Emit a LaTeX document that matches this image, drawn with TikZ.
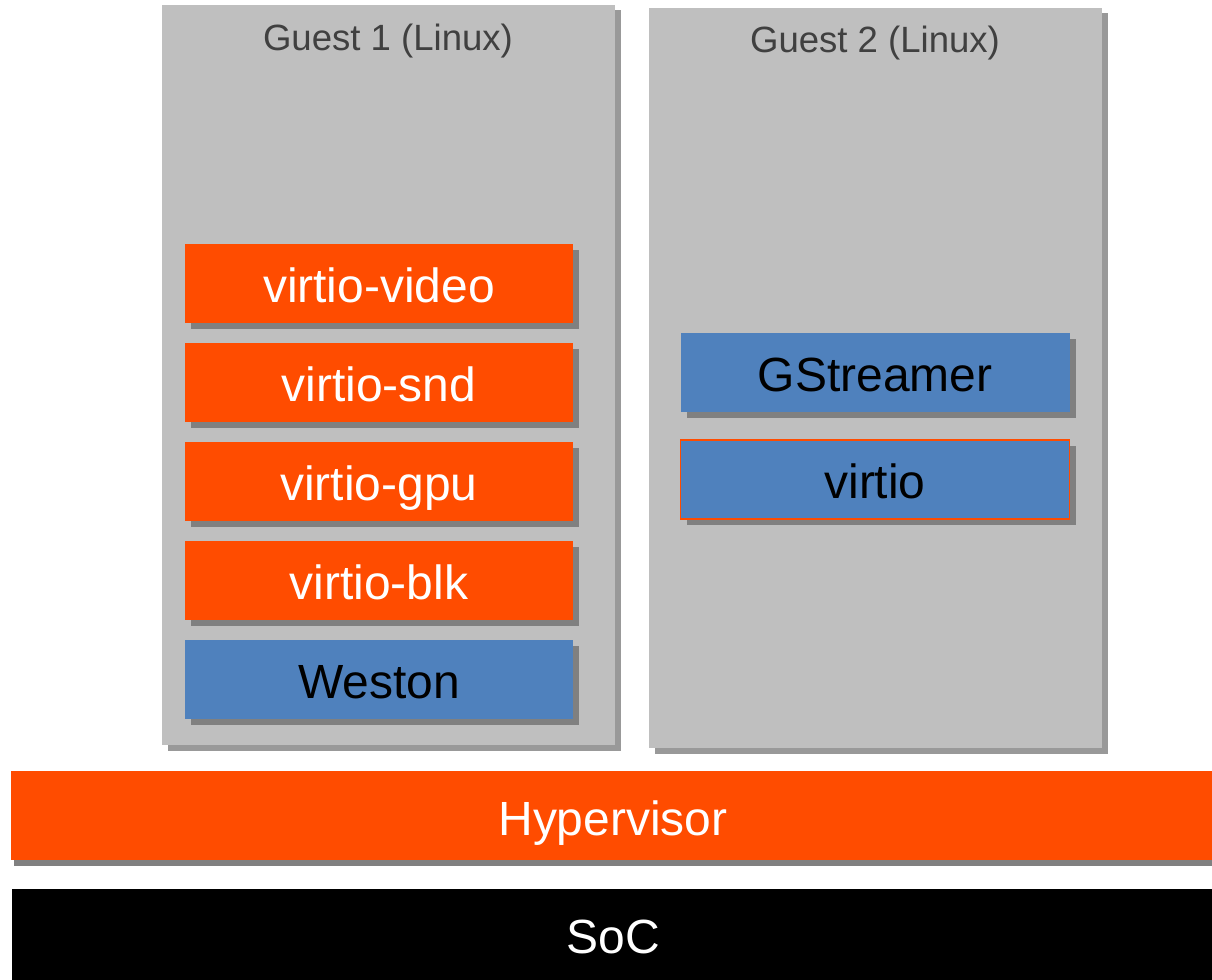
\documentclass[tikz,border=0pt]{standalone}
\usepackage{fontspec}
\setmainfont{Liberation Sans}
\usetikzlibrary{positioning,shadows}
\definecolor{hvorange}{RGB}{255,76,0}
\definecolor{swblue}{RGB}{79,129,189}
\definecolor{guestgray}{RGB}{191,191,191}
\definecolor{titlegray}{RGB}{64,64,64}
\tikzstyle{guest} = [rectangle, fill=guestgray, outer sep=0pt, minimum width=9.06cm, minimum height=14.8cm, general shadow={fill=black!40, shadow xshift=0.12cm, shadow yshift=-0.11cm}]
\tikzstyle{guesttitle} = [text=titlegray, font=\fontsize{20.8}{25}\selectfont]
\tikzstyle{driver} = [rectangle, text centered, fill=hvorange, text=white, outer sep=0pt, minimum width=7.76cm, minimum height=1.58cm, text height=0.82cm, text depth=0.05cm, font=\fontsize{27.3}{32}\selectfont, general shadow={fill=black!50, shadow xshift=0.12cm, shadow yshift=-0.12cm}]
\tikzstyle{app} = [driver, fill=swblue, text=black]
\tikzstyle{layer} = [rectangle, text centered, text=white, outer sep=0pt, minimum width=24.08cm, text height=0.84cm, text depth=0.05cm, font=\fontsize{27.3}{32}\selectfont]

\begin{document}
\begin{tikzpicture}
\useasboundingbox (0,0) rectangle (24.24,-19.6);

\node (guest1) [guest] at (7.77,-7.50) {};
\node (guest2) [guest] at (17.51,-7.56) {};
\node (g1title) [guesttitle] at (7.76,-0.82) {Guest 1 (Linux)};
\node (g2title) [guesttitle] at (17.50,-0.86) {Guest 2 (Linux)};

% guest 1 stack
\node (vvideo) [driver] at (7.58,-5.67) {virtio-video};
\node (vsnd) [driver, below=0.4cm of vvideo] {virtio-snd};
\node (vgpu) [driver, below=0.4cm of vsnd] {virtio-gpu};
\node (vblk) [driver, below=0.4cm of vgpu] {virtio-blk};
\node (weston) [app, below=0.4cm of vblk] {Weston};

% guest 2 stack
\node (gst) [app, minimum width=7.78cm] at (17.50,-7.45) {GStreamer};
\node (virtio) [app, draw=hvorange, line width=0.8pt, minimum width=7.78cm, below=0.56cm of gst] {virtio};

\node (hyp) [layer, fill=hvorange, minimum height=1.78cm, general shadow={fill=black!50, shadow xshift=0.06cm, shadow yshift=-0.12cm}] at (12.26,-16.31) {Hypervisor};
\node (soc) [layer, fill=black, minimum height=1.92cm, text height=0.82cm, text depth=0.17cm] at (12.27,-18.74) {SoC};

\end{tikzpicture}
\end{document}
